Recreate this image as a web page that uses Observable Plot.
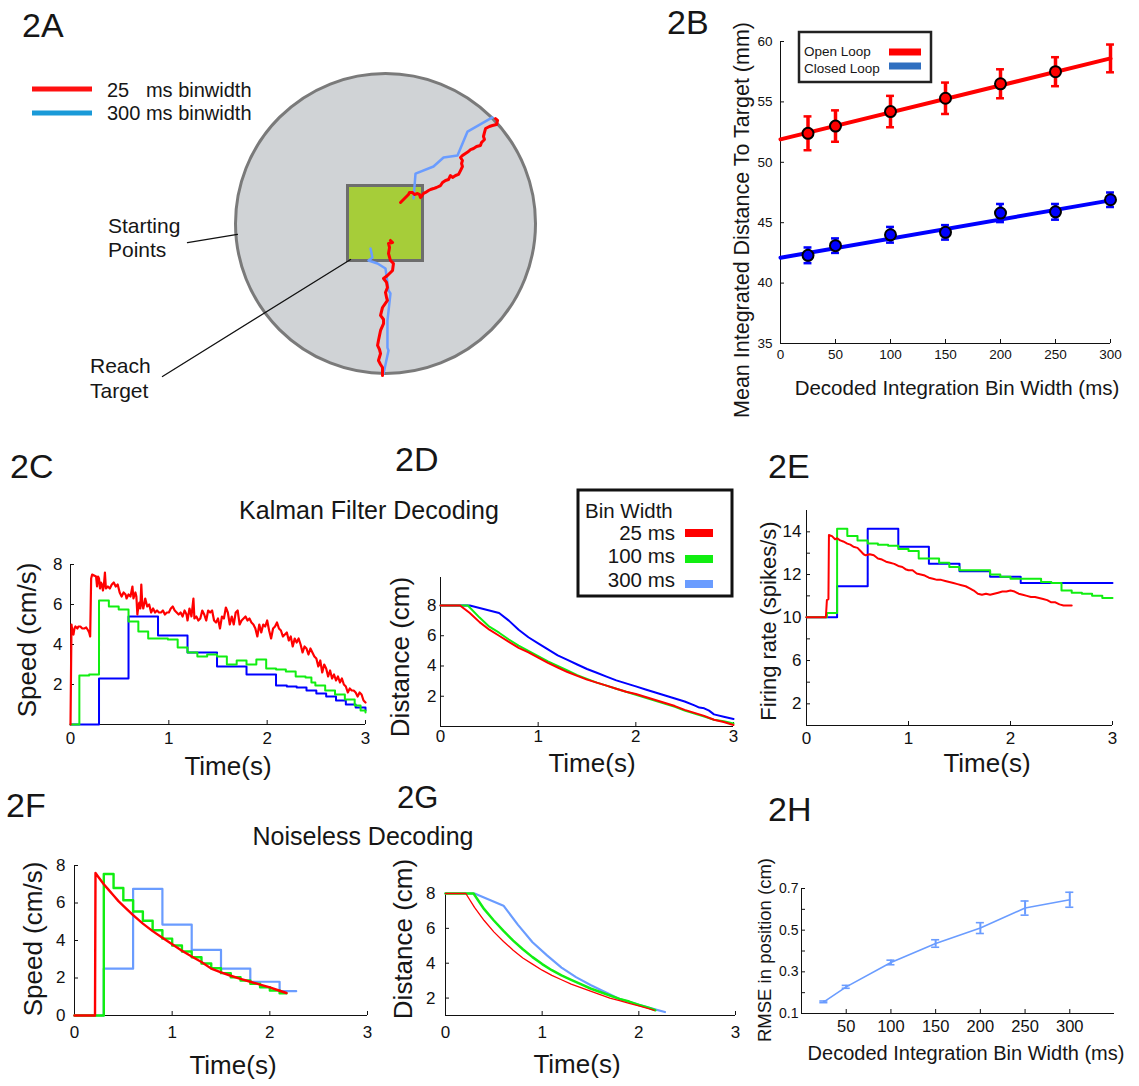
<!DOCTYPE html>
<html><head><meta charset="utf-8">
<script src="https://cdn.jsdelivr.net/npm/d3@7"></script>
<script src="https://cdn.jsdelivr.net/npm/@observablehq/plot@0.6"></script>
<style>
html,body{margin:0;padding:0;background:#fff;}
#fig{position:relative;width:1139px;height:1086px;overflow:hidden;font-family:"Liberation Sans",Arial,Helvetica,sans-serif;}
.ov{position:absolute;left:0;top:0;pointer-events:none;}
</style></head><body><div id="fig"></div>
<script>
// ---------------- DATA ----------------
// 2A workspace diagram (cm, origin at workspace centre)
const workspaceRadius = 10;
const targetHalf = 2.5;
const traj25Upper = [[7.33,7.0],[7.47,6.87],[7.4,6.6],[7.13,6.53],[6.93,6.47],[6.67,6.33],[6.6,6.07],[6.53,5.8],[6.6,5.6],[6.4,5.4],[6.33,5.2],[6.07,5.13],[5.87,5.0],[5.67,4.93],[5.53,4.8],[5.33,4.67],[5.13,4.53],[5.0,4.4],[5.13,4.2],[5.07,4.0],[5.13,3.8],[5.0,3.53],[4.87,3.27],[4.67,3.2],[4.47,3.07],[4.33,3.2],[4.2,2.93],[4.0,2.87],[3.8,2.73],[3.67,2.53],[3.4,2.4],[3.2,2.33],[3.0,2.27],[2.87,2.2],[2.67,2.07],[2.53,2.0],[2.4,1.8],[2.33,1.73],[2.27,1.93],[2.13,2.0],[1.93,1.93],[1.8,2.07],[1.6,2.07],[1.53,1.93],[1.4,1.8],[1.2,1.6],[1.0,1.4]];
const traj300Upper = [[7.13,7.07],[5.47,6.13],[4.8,4.53],[3.87,4.4],[3.2,3.8],[2.0,3.33],[1.87,1.67]];
const traj25Lower = [[0.33,-1.13],[0.47,-1.27],[0.2,-1.33],[0.27,-1.6],[0.2,-2.0],[0.33,-2.47],[0.53,-2.67],[0.47,-3.13],[0.13,-3.47],[-0.13,-3.67],[0.07,-3.93],[0.13,-4.27],[0.0,-4.6],[0.07,-4.93],[0.13,-5.13],[-0.2,-5.6],[-0.27,-5.87],[-0.33,-6.13],[-0.13,-6.4],[-0.13,-6.67],[-0.33,-7.13],[-0.4,-7.47],[-0.47,-7.8],[-0.53,-8.13],[-0.4,-8.4],[-0.33,-8.67],[-0.47,-9.13],[-0.33,-9.4],[-0.2,-9.6],[-0.2,-10.13]];
const traj300Lower = [[-1.0,-1.67],[-0.87,-2.27],[-1.13,-2.47],[-0.53,-2.67],[0.0,-3.0],[0.2,-4.47],[0.33,-4.67],[0.13,-6.47],[0.13,-8.27],[0.2,-8.47],[-0.13,-10.0]];
const leaderStart = [[-13.2,-1.27],[-9.87,-0.73]];
const leaderTarget = [[-14.87,-10.2],[-2.33,-2.4]];

// 2B
const binWidths = [25, 50, 100, 150, 200, 250, 300];
const openLoopMean = [52.4, 53.0, 54.2, 55.3, 56.5, 57.5, 58.6];
const openLoopErr = [1.4, 1.3, 1.3, 1.3, 1.2, 1.2, 1.15];
const closedLoopMean = [42.3, 43.1, 44.0, 44.2, 45.8, 45.9, 46.9];
const closedLoopErr = [0.65, 0.6, 0.65, 0.6, 0.75, 0.65, 0.6];
const fitX = [0, 300];
const openFit = [51.9, 58.6];
const closedFit = [42.1, 46.85];

// 2C Kalman speed (t s, cm/s)
const kalmanSpeed25 = [[0,0],[0.01,5.0],[0.02,4.6],[0.03,4.5],[0.04,4.8],[0.05,4.9],[0.07,4.8],[0.08,4.9],[0.10,4.9],[0.12,4.8],[0.14,4.8],[0.16,4.85],[0.18,4.7],[0.19,4.6],[0.20,4.4],[0.21,7.3],[0.22,7.5],[0.24,7.45],[0.26,7.4],[0.27,6.9],[0.28,7.4],[0.29,7.3],[0.30,6.8],[0.31,7.1],[0.32,7.0],[0.33,6.7],[0.34,7.0],[0.35,7.6],[0.36,6.8],[0.38,6.9],[0.40,6.8],[0.42,7.0],[0.44,7.1],[0.46,6.9],[0.48,7.0],[0.50,6.6],[0.52,6.4],[0.54,6.6],[0.56,6.5],[0.57,6.3],[0.59,6.5],[0.61,6.4],[0.63,6.9],[0.64,6.3],[0.66,6.6],[0.67,6.4],[0.68,5.5],[0.69,5.9],[0.70,6.1],[0.71,5.8],[0.72,7.0],[0.73,6.0],[0.74,5.8],[0.76,6.3],[0.78,5.9],[0.80,6.0],[0.82,5.6],[0.84,5.8],[0.86,5.6],[0.88,5.7],[0.90,5.6],[0.92,5.6],[0.94,5.7],[0.96,5.5],[0.98,5.6],[1.00,5.6],[1.02,5.8],[1.04,5.9],[1.06,5.7],[1.08,5.6],[1.10,5.5],[1.12,5.6],[1.14,5.4],[1.16,5.7],[1.18,5.5],[1.19,5.2],[1.21,5.8],[1.23,5.4],[1.25,6.3],[1.26,5.3],[1.28,5.4],[1.30,5.2],[1.32,5.3],[1.34,5.7],[1.36,5.5],[1.38,5.2],[1.40,5.7],[1.42,5.6],[1.44,5.7],[1.46,5.2],[1.48,5.1],[1.50,5.3],[1.52,4.8],[1.54,5.4],[1.56,5.3],[1.58,5.85],[1.60,5.6],[1.62,5.0],[1.64,5.4],[1.66,5.0],[1.68,5.6],[1.70,5.7],[1.72,5.0],[1.74,5.2],[1.76,5.3],[1.78,5.4],[1.80,5.2],[1.82,5.3],[1.84,5.1],[1.86,5.0],[1.88,4.8],[1.90,4.4],[1.92,5.0],[1.94,4.6],[1.96,5.0],[1.98,4.9],[2.00,5.2],[2.02,4.7],[2.04,4.3],[2.06,4.8],[2.08,4.9],[2.10,5.1],[2.12,4.8],[2.14,4.7],[2.16,4.4],[2.18,4.5],[2.20,4.6],[2.22,4.2],[2.24,4.4],[2.26,3.9],[2.28,4.3],[2.30,4.1],[2.32,4.3],[2.34,4.0],[2.36,3.6],[2.38,3.9],[2.40,3.8],[2.42,3.5],[2.44,3.8],[2.46,3.6],[2.48,3.4],[2.50,3.3],[2.52,2.9],[2.54,3.2],[2.56,2.6],[2.58,3.0],[2.60,2.8],[2.62,2.4],[2.64,2.7],[2.66,2.3],[2.68,2.5],[2.70,2.2],[2.72,2.4],[2.74,2.1],[2.76,2.3],[2.78,2.0],[2.80,1.9],[2.82,1.6],[2.84,1.8],[2.86,1.7],[2.88,1.7],[2.90,1.6],[2.92,1.4],[2.94,1.6],[2.96,1.5],[2.98,1.2],[3.00,1.1]];
const kalmanSpeed100 = [[0,0],[0.09,2.45],[0.19,2.5],[0.29,6.2],[0.39,5.9],[0.49,5.75],[0.59,5.15],[0.69,4.65],[0.79,4.3],[0.89,4.3],[0.99,4.25],[1.09,3.85],[1.19,3.6],[1.29,3.4],[1.39,3.5],[1.49,3.4],[1.59,3.0],[1.69,3.2],[1.79,3.0],[1.89,3.25],[1.99,2.8],[2.09,2.75],[2.19,2.65],[2.29,2.4],[2.39,2.35],[2.45,2.1],[2.49,1.95],[2.59,1.7],[2.69,1.5],[2.79,1.25],[2.89,0.95],[2.95,0.7],[3.0,0.6]];
const kalmanSpeed300 = [[0,0],[0.29,2.3],[0.59,5.4],[0.89,4.45],[1.19,3.6],[1.49,2.9],[1.79,2.5],[2.09,1.95],[2.2,1.9],[2.3,1.85],[2.4,1.7],[2.5,1.55],[2.6,1.4],[2.7,1.2],[2.8,1.0],[2.9,0.85],[3.0,0.7]];

// 2D Kalman distance (cm)
const kalmanDist25 = [[0,8],[0.2,8],[0.3,7.5],[0.4,6.9],[0.5,6.4],[0.6,6.0],[0.7,5.6],[0.8,5.2],[0.9,4.9],[1.0,4.55],[1.1,4.2],[1.2,3.9],[1.3,3.6],[1.4,3.35],[1.5,3.1],[1.6,2.9],[1.7,2.7],[1.8,2.5],[1.9,2.3],[2.0,2.15],[2.1,1.95],[2.2,1.75],[2.3,1.55],[2.4,1.35],[2.5,1.1],[2.6,0.9],[2.7,0.7],[2.8,0.45],[2.9,0.3],[3.0,0.1]];
const kalmanDist100 = [[0,8],[0.28,8],[0.4,7.2],[0.5,6.6],[0.6,6.2],[0.7,5.75],[0.8,5.35],[0.9,5.0],[1.0,4.65],[1.1,4.3],[1.2,4.0],[1.3,3.7],[1.4,3.4],[1.5,3.15],[1.6,2.9],[1.7,2.7],[1.8,2.5],[1.9,2.3],[2.0,2.1],[2.1,1.9],[2.2,1.7],[2.3,1.5],[2.4,1.3],[2.5,1.05],[2.6,0.85],[2.7,0.65],[2.8,0.45],[2.9,0.35],[3.0,0.2]];
const kalmanDist300 = [[0,8],[0.3,8],[0.6,7.5],[0.7,7.0],[0.8,6.4],[0.9,5.9],[1.0,5.5],[1.1,5.1],[1.2,4.7],[1.3,4.4],[1.4,4.1],[1.5,3.8],[1.6,3.55],[1.7,3.3],[1.8,3.05],[1.9,2.85],[2.0,2.65],[2.1,2.45],[2.2,2.25],[2.3,2.05],[2.4,1.85],[2.5,1.65],[2.6,1.4],[2.65,1.25],[2.7,1.2],[2.75,1.05],[2.8,0.8],[2.9,0.65],[3.0,0.5]];

// 2E firing rate (spikes/s)
const rate25 = [[0,10],[0.19,10],[0.2,10.8],[0.215,10.85],[0.22,13.85],[0.25,13.8],[0.28,13.65],[0.3,13.7],[0.33,13.6],[0.36,13.55],[0.4,13.45],[0.43,13.4],[0.46,13.3],[0.5,13.25],[0.53,13.1],[0.56,12.95],[0.58,12.9],[0.62,12.95],[0.66,12.9],[0.7,12.75],[0.74,12.7],[0.78,12.6],[0.82,12.55],[0.86,12.5],[0.9,12.4],[0.94,12.35],[0.97,12.25],[1.0,12.2],[1.04,12.2],[1.08,12.05],[1.12,12.0],[1.16,11.95],[1.2,11.85],[1.24,11.8],[1.28,11.75],[1.32,11.75],[1.36,11.7],[1.4,11.65],[1.44,11.6],[1.48,11.55],[1.52,11.5],[1.56,11.45],[1.6,11.35],[1.64,11.25],[1.68,11.1],[1.72,11.05],[1.76,11.1],[1.8,11.05],[1.84,11.1],[1.88,11.15],[1.92,11.2],[1.96,11.2],[2.0,11.25],[2.04,11.2],[2.08,11.1],[2.12,11.05],[2.16,11.0],[2.2,10.95],[2.24,10.95],[2.28,10.9],[2.32,10.85],[2.36,10.8],[2.4,10.7],[2.44,10.7],[2.48,10.6],[2.52,10.55],[2.56,10.55],[2.6,10.55]];
const rate100 = [[0,10],[0.2,10.2],[0.3,14.15],[0.4,13.8],[0.5,13.6],[0.6,13.45],[0.7,13.4],[0.8,13.35],[0.9,13.2],[1.0,13.1],[1.1,12.75],[1.2,12.75],[1.3,12.55],[1.4,12.35],[1.5,12.2],[1.6,12.2],[1.7,12.2],[1.8,12.0],[1.9,11.9],[2.0,11.8],[2.1,11.8],[2.2,11.8],[2.3,11.65],[2.4,11.6],[2.5,11.25],[2.6,11.15],[2.7,11.1],[2.8,11.0],[2.9,10.9],[3.0,10.9]];
const rate300 = [[0,10],[0.3,11.45],[0.6,14.15],[0.9,13.3],[1.2,12.5],[1.5,12.15],[1.8,11.9],[2.1,11.6],[2.4,11.6],[2.7,11.6],[3.0,11.6]];

// 2F noiseless speed (cm/s)
const noiselessSpeed25 = [[0,0],[0.21,0],[0.215,7.6],[0.25,7.35],[0.3,7.0],[0.35,6.7],[0.4,6.4],[0.45,6.1],[0.5,5.85],[0.6,5.35],[0.7,4.9],[0.8,4.5],[0.9,4.15],[1.0,3.8],[1.1,3.45],[1.2,3.15],[1.3,2.85],[1.4,2.5],[1.5,2.3],[1.6,2.12],[1.7,1.95],[1.8,1.8],[1.9,1.65],[2.0,1.5],[2.1,1.32],[2.17,1.2]];
const noiselessSpeed100 = [[0,0],[0.3,7.55],[0.4,6.8],[0.5,6.15],[0.6,5.55],[0.7,5.05],[0.8,4.55],[0.9,4.1],[1.0,3.73],[1.1,3.41],[1.2,3.11],[1.3,2.77],[1.4,2.52],[1.5,2.26],[1.6,2.04],[1.7,1.87],[1.8,1.69],[1.9,1.51],[2.0,1.33],[2.1,1.19],[2.17,1.19]];
const noiselessSpeed300 = [[0,0],[0.3,2.5],[0.6,6.75],[0.9,4.85],[1.2,3.5],[1.5,2.5],[1.8,1.8],[2.1,1.3],[2.27,1.3]];

// 2G noiseless distance (cm)
const noiselessDist25 = [[0,8],[0.21,8],[0.3,7.2],[0.4,6.45],[0.5,5.8],[0.6,5.25],[0.7,4.75],[0.8,4.3],[0.9,3.95],[1.0,3.6],[1.1,3.3],[1.2,3.05],[1.3,2.8],[1.4,2.6],[1.5,2.4],[1.6,2.2],[1.7,2.0],[1.8,1.85],[1.9,1.7],[2.0,1.55],[2.1,1.4],[2.16,1.3]];
const noiselessDist100 = [[0,8],[0.29,8],[0.4,7.1],[0.5,6.45],[0.6,5.85],[0.7,5.3],[0.8,4.8],[0.9,4.35],[1.0,3.95],[1.1,3.6],[1.2,3.3],[1.3,3.05],[1.4,2.8],[1.5,2.55],[1.6,2.35],[1.7,2.15],[1.8,1.95],[1.9,1.8],[2.0,1.6],[2.1,1.45],[2.17,1.3]];
const noiselessDist300 = [[0,8],[0.3,8],[0.6,7.3],[0.75,6.2],[0.9,5.2],[1.05,4.45],[1.2,3.75],[1.35,3.2],[1.5,2.75],[1.65,2.35],[1.8,1.95],[1.95,1.7],[2.1,1.45],[2.27,1.2]];

// 2H RMSE
const rmseBins = [25, 50, 100, 150, 200, 250, 300];
const rmseMean = [0.156, 0.228, 0.345, 0.436, 0.51, 0.606, 0.646];
const rmseErr = [0.004, 0.007, 0.011, 0.018, 0.026, 0.034, 0.036];

// ---------------- DRAWING ----------------
const FONT = '"Liberation Sans", Arial, Helvetica, sans-serif';
const RED = "#ff0000", GREEN = "#11ee11", BLUE = "#0000ff", LBLUE = "#6a9cff";
const fig = document.getElementById("fig");
function place(el, box) {
  el.style.position = "absolute"; el.style.left = box.left + "px"; el.style.top = box.top + "px";
  fig.appendChild(el);
}
function frameOpts(box, fr) {
  return {width: box.width, height: box.height,
    marginLeft: fr.x0 - box.left, marginRight: box.left + box.width - fr.x1,
    marginTop: fr.y0 - box.top, marginBottom: box.top + box.height - fr.y1,
    style: {fontFamily: FONT, color: "#111", background: "none", overflow: "visible"}};
}
function frameAxes(xMin, yMin, {xTicks, yTicks, xFmt, yFmt, xfs = 17, yfs = 17, xPad = 9, yPad = 7}) {
  return [
    Plot.ruleY([yMin], {stroke: "#111", strokeWidth: 1}),
    Plot.ruleX([xMin], {stroke: "#111", strokeWidth: 1}),
    Plot.axisX(xTicks, {tickSize: -4, tickPadding: xPad + 4, fontSize: xfs, tickFormat: xFmt, label: null}),
    Plot.axisY(yTicks, {tickSize: -4, tickPadding: yPad + 4, fontSize: yfs, tickFormat: yFmt, label: null})
  ];
}
const px = d => d[0], py = d => d[1];

// 2A
{
  const box = {left: 0, top: 60, width: 560, height: 340};
  const cx = 385, cy = 223, k = 15; // px per cm
  const a = Plot.plot({
    width: box.width, height: box.height, margin: 0,
    style: {background: "none", overflow: "visible"},
    x: {domain: [(box.left - cx) / k, (box.left + box.width - cx) / k], axis: null},
    y: {domain: [(cy - box.top - box.height) / k, (cy - box.top) / k], axis: null},
    marks: [
      Plot.dot([[0, 0]], {x: px, y: py, r: workspaceRadius * k, fill: "#d0d3d6", stroke: "#7a7a7a", strokeWidth: 3}),
      Plot.rect([[-targetHalf, targetHalf]], {x1: d => d[0], x2: d => d[1], y1: d => d[0], y2: d => d[1], fill: "#a6cd39", stroke: "#6d6d6d", strokeWidth: 3}),
      Plot.line(traj300Upper, {x: px, y: py, stroke: LBLUE, strokeWidth: 2.5}),
      Plot.line(traj300Lower, {x: px, y: py, stroke: LBLUE, strokeWidth: 2.5}),
      Plot.line(traj25Upper, {x: px, y: py, stroke: RED, strokeWidth: 3}),
      Plot.line(traj25Lower, {x: px, y: py, stroke: RED, strokeWidth: 3}),
      Plot.line(leaderStart, {x: px, y: py, stroke: "#111", strokeWidth: 1.3}),
      Plot.line(leaderTarget, {x: px, y: py, stroke: "#111", strokeWidth: 1.3})
    ]
  });
  place(a, box);
}

// 2B
{
  const box = {left: 700, top: 15, width: 439, height: 365};
  const open = binWidths.map((x, i) => ({x, y: openLoopMean[i], e: openLoopErr[i], i}));
  const closed = binWidths.map((x, i) => ({x, y: closedLoopMean[i], e: closedLoopErr[i], i}));
  const fitO = fitX.map((x, i) => ({x, y: openFit[i]}));
  const fitC = fitX.map((x, i) => ({x, y: closedFit[i]}));
  const cap = 3.6;
  const errMarks = (data, color) => [
    Plot.ruleX(data, {x: "x", y1: d => d.y - d.e, y2: d => d.y + d.e, stroke: color, strokeWidth: 3.5}),
    Plot.ruleY(data, {y: d => d.y - d.e, x1: d => d.x - cap, x2: d => d.x + cap, stroke: color, strokeWidth: 2.5}),
    Plot.ruleY(data, {y: d => d.y + d.e, x1: d => d.x - cap, x2: d => d.x + cap, stroke: color, strokeWidth: 2.5})
  ];
  const b = Plot.plot({
    ...frameOpts(box, {x0: 780, x1: 1110, y0: 41, y1: 343}),
    x: {domain: [0, 300]}, y: {domain: [35, 60]},
    marks: [
      ...frameAxes(0, 35, {xTicks: [0, 50, 100, 150, 200, 250, 300], yTicks: [35, 40, 45, 50, 55, 60], xfs: 13.5, yfs: 13.5, xPad: 6, yPad: 8}),
      Plot.line(fitO, {x: "x", y: "y", stroke: RED, strokeWidth: 4}),
      Plot.line(fitC, {x: "x", y: "y", stroke: BLUE, strokeWidth: 4}),
      ...errMarks(open, RED),
      ...errMarks(closed, BLUE),
      Plot.dot(open.filter(d => d.i < 6), {x: "x", y: "y", r: 5.5, fill: RED, stroke: "#000", strokeWidth: 2}),
      Plot.dot(closed, {x: "x", y: "y", r: 5.5, fill: BLUE, stroke: "#000", strokeWidth: 2})
    ]
  });
  place(b, box);
}

// 2C
{
  const box = {left: 0, top: 540, width: 380, height: 230};
  const c = Plot.plot({
    ...frameOpts(box, {x0: 70, x1: 365, y0: 564, y1: 724}),
    x: {domain: [0, 3]}, y: {domain: [0, 8]},
    marks: [
      ...frameAxes(0, 0, {xTicks: [0, 1, 2, 3], yTicks: [2, 4, 6, 8], xPad: 7, yPad: 8}),
      Plot.line(kalmanSpeed300, {x: px, y: py, curve: "step-after", stroke: BLUE, strokeWidth: 2}),
      Plot.line(kalmanSpeed100, {x: px, y: py, curve: "step-after", stroke: GREEN, strokeWidth: 2}),
      Plot.line(kalmanSpeed25, {x: px, y: py, stroke: RED, strokeWidth: 2.2})
    ]
  });
  place(c, box);
}

// 2D
{
  const box = {left: 380, top: 560, width: 370, height: 210};
  const dd = Plot.plot({
    ...frameOpts(box, {x0: 440, x1: 733, y0: 577, y1: 726}),
    x: {domain: [0, 3]}, y: {domain: [0, 9.85]},
    marks: [
      ...frameAxes(0, 0, {xTicks: [0, 1, 2, 3], yTicks: [2, 4, 6, 8], xPad: 3, yPad: 4}),
      Plot.line(kalmanDist300, {x: px, y: py, stroke: BLUE, strokeWidth: 2}),
      Plot.line(kalmanDist100, {x: px, y: py, stroke: GREEN, strokeWidth: 2}),
      Plot.line(kalmanDist25, {x: px, y: py, stroke: RED, strokeWidth: 2})
    ]
  });
  place(dd, box);
}

// 2E (broken-scale y axis: 1 unit per tick above 10, 2 units per tick below)
{
  const box = {left: 750, top: 495, width: 389, height: 275};
  const fr = {x0: 806, x1: 1112, y0: 510, y1: 725};
  const labelled = [2, 6, 10, 12, 14];
  const e = Plot.plot({
    ...frameOpts(box, fr),
    x: {domain: [0, 3]},
    y: {type: "linear", domain: [0, 10, 15], range: [fr.y1 - box.top, 616.7 - box.top, fr.y0 - box.top]},
    marks: [
      ...frameAxes(0, 0, {xTicks: [0, 1, 2, 3], yTicks: [2, 4, 6, 8, 10, 11, 12, 13, 14],
        yFmt: d => labelled.includes(d) ? String(d) : "", xPad: 6, yPad: 5}),
      Plot.line(rate300, {x: px, y: py, curve: "step-after", stroke: BLUE, strokeWidth: 2}),
      Plot.line(rate100, {x: px, y: py, curve: "step-after", stroke: GREEN, strokeWidth: 2}),
      Plot.line(rate25, {x: px, y: py, stroke: RED, strokeWidth: 2})
    ]
  });
  place(e, box);
}

// 2F
{
  const box = {left: 0, top: 850, width: 380, height: 200};
  const f = Plot.plot({
    ...frameOpts(box, {x0: 74, x1: 367, y0: 865, y1: 1015}),
    x: {domain: [0, 3]}, y: {domain: [0, 8]},
    marks: [
      ...frameAxes(0, 0, {xTicks: [0, 1, 2, 3], yTicks: [0, 2, 4, 6, 8], xPad: 10, yPad: 9}),
      Plot.line(noiselessSpeed300, {x: px, y: py, curve: "step-after", stroke: LBLUE, strokeWidth: 2.2}),
      Plot.line(noiselessSpeed100, {x: px, y: py, curve: "step-after", stroke: GREEN, strokeWidth: 2.4}),
      Plot.line(noiselessSpeed25, {x: px, y: py, stroke: RED, strokeWidth: 2.4})
    ]
  });
  place(f, box);
}

// 2G
{
  const box = {left: 380, top: 880, width: 370, height: 170};
  const g = Plot.plot({
    ...frameOpts(box, {x0: 445, x1: 735, y0: 893, y1: 1015}),
    x: {domain: [0, 3]}, y: {domain: [1, 8]},
    marks: [
      ...frameAxes(0, 1, {xTicks: [0, 1, 2, 3], yTicks: [2, 4, 6, 8], xPad: 10, yPad: 10}),
      Plot.line(noiselessDist300, {x: px, y: py, stroke: LBLUE, strokeWidth: 2.2}),
      Plot.line(noiselessDist100, {x: px, y: py, stroke: GREEN, strokeWidth: 2.5}),
      Plot.line(noiselessDist25, {x: px, y: py, stroke: RED, strokeWidth: 1.3})
    ]
  });
  place(g, box);
}

// 2H
{
  const box = {left: 750, top: 875, width: 389, height: 170};
  const pts = rmseBins.map((x, i) => ({x, y: rmseMean[i], e: rmseErr[i]}));
  const cap = 4.5;
  const h = Plot.plot({
    ...frameOpts(box, {x0: 801, x1: 1114, y0: 888, y1: 1013}),
    x: {domain: [0, 350]}, y: {domain: [0.1, 0.7]},
    marks: [
      ...frameAxes(0, 0.1, {xTicks: [50, 100, 150, 200, 250, 300], yTicks: [0.1, 0.2, 0.3, 0.4, 0.5, 0.6, 0.7],
        yFmt: d => Math.round(d * 10) % 2 === 1 ? d.toFixed(1) : "", xfs: 16.5, yfs: 14, xPad: 7, yPad: 3}),
      Plot.line(pts, {x: "x", y: "y", stroke: LBLUE, strokeWidth: 1.6}),
      Plot.ruleX(pts, {x: "x", y1: d => d.y - d.e, y2: d => d.y + d.e, stroke: LBLUE, strokeWidth: 2}),
      Plot.ruleY(pts, {y: d => d.y - d.e, x1: d => d.x - cap, x2: d => d.x + cap, stroke: LBLUE, strokeWidth: 1.6}),
      Plot.ruleY(pts, {y: d => d.y + d.e, x1: d => d.x - cap, x2: d => d.x + cap, stroke: LBLUE, strokeWidth: 1.6})
    ]
  });
  place(h, box);
}

// ---------------- TEXT, LABELS, LEGENDS ----------------
const T = (x, y, s, size, extra = "") => `<text x="${x}" y="${y}" font-size="${size}" ${extra}>${s}</text>`;
const RT = (x, y, s, size) => `<text transform="translate(${x},${y}) rotate(-90)" text-anchor="middle" font-size="${size}">${s}</text>`;
const ov = `<svg class="ov" width="1139" height="1086" font-family='${FONT}' fill="#161616">
${T(22, 37, "2A", 34)}${T(667, 34, "2B", 34)}${T(10, 478, "2C", 34)}${T(395, 471, "2D", 34)}
${T(768, 478, "2E", 34)}${T(6, 817, "2F", 34)}${T(397, 808, "2G", 31)}${T(768, 821, "2H", 34)}
<line x1="32" y1="89" x2="92" y2="89" stroke="#ff1010" stroke-width="5"/>
<line x1="32" y1="113" x2="92" y2="113" stroke="#1a9ad8" stroke-width="5"/>
${T(107, 97, "25   ms binwidth", 20, 'xml:space="preserve"')}${T(107, 120, "300 ms binwidth", 20)}
${T(108, 233, "Starting", 21)}${T(108, 257, "Points", 21)}
${T(90, 373, "Reach", 21)}${T(90, 398, "Target", 21)}
<rect x="799" y="32" width="132" height="50" fill="#fff" stroke="#222" stroke-width="2.5"/>
${T(804, 56, "Open Loop", 13.5)}${T(804, 73, "Closed Loop", 13.5)}
<rect x="889" y="48.5" width="32" height="7" fill="#ff0000"/>
<rect x="889" y="62.5" width="32" height="7" fill="#2f6fc0"/>
${RT(749, 220, "Mean Integrated Distance To Target (mm)", 21.5)}
<text x="957" y="395" font-size="20.5" text-anchor="middle">Decoded Integration Bin Width (ms)</text>
<text x="369" y="519" font-size="25" text-anchor="middle">Kalman Filter Decoding</text>
<text x="363" y="845" font-size="25" text-anchor="middle">Noiseless Decoding</text>
${RT(36, 640, "Speed (cm/s)", 26)}<text x="228" y="775" font-size="26" text-anchor="middle">Time(s)</text>
${RT(409, 657, "Distance (cm)", 26)}<text x="592" y="772" font-size="26" text-anchor="middle">Time(s)</text>
${RT(776, 621, "Firing rate (spikes/s)", 22)}<text x="987" y="772" font-size="26" text-anchor="middle">Time(s)</text>
${RT(42, 939, "Speed (cm/s)", 26)}<text x="233" y="1074" font-size="26" text-anchor="middle">Time(s)</text>
${RT(412, 939, "Distance (cm)", 26)}<text x="577" y="1073" font-size="26" text-anchor="middle">Time(s)</text>
${RT(771, 950, "RMSE in position (cm)", 18.5)}
<text x="966" y="1060" font-size="20" text-anchor="middle">Decoded Integration Bin Width (ms)</text>
<rect x="578" y="490" width="154" height="106" fill="#fff" stroke="#111" stroke-width="3"/>
${T(585, 518, "Bin Width", 20.5)}
<text x="675" y="540" font-size="20.5" text-anchor="end">25 ms</text>
<text x="675" y="563" font-size="20.5" text-anchor="end">100 ms</text>
<text x="675" y="587" font-size="20.5" text-anchor="end">300 ms</text>
<rect x="685" y="529" width="28" height="8" fill="#ff0000"/>
<rect x="685" y="555" width="28" height="8" fill="#11ee11"/>
<rect x="685" y="580" width="28" height="8" fill="#6a9cff"/>
</svg>`;
const holder = document.createElement("div");
holder.innerHTML = ov;
fig.appendChild(holder.firstElementChild);
</script></body></html>
